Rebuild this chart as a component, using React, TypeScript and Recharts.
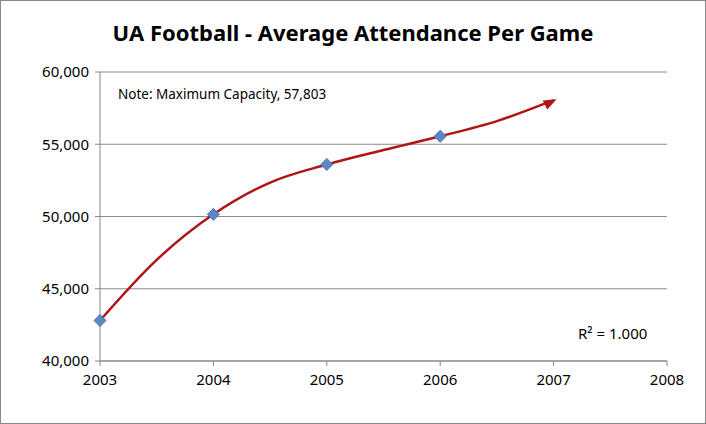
import { ComposedChart, Line, Scatter, XAxis, YAxis, CartesianGrid } from "recharts";

const years = [2003, 2004, 2005, 2006];
const attendance = [42800, 50150, 53600, 55550];
// trendline
const trendYears = [2003, 2003.5, 2004, 2004.5, 2005, 2005.5, 2006, 2006.5, 2007];
const trendValues = [42800, 47000, 50150, 52350, 53600, 54600, 55550, 56600, 58050];
const xTicks = [2003, 2004, 2005, 2006, 2007, 2008];
const yTicks = [40000, 45000, 50000, 55000, 60000];

const points = years.map((y, i) => ({ year: y, value: attendance[i] }));
const trend = trendYears.map((y, i) => ({ year: y, trend: trendValues[i] }));

const font = "'Noto Sans', 'Open Sans', sans-serif";

const ArrowDot = (props: any) => {
  const { cx, cy, index } = props;
  if (index !== trend.length - 1) return <g key={index} />;
  return (
    <polygon
      key={index}
      points="0,0 -13,-5 -13,5"
      fill="#B01515"
      transform={`translate(${cx + 3},${cy - 1}) rotate(-27)`}
    />
  );
};

const Diamond = (props: any) => {
  const { cx, cy } = props;
  return (
    <polygon
      points={`${cx},${cy - 6} ${cx + 6},${cy} ${cx},${cy + 6} ${cx - 6},${cy}`}
      fill="#5B87C5"
      stroke="#4A74B0"
    />
  );
};

export default function App() {
  return (
    <div style={{ position: "fixed", left: 0, top: 0, width: 706, height: 424, background: "#fff", fontFamily: font }}>
      <div style={{ position: "absolute", inset: 0, border: "1px solid #888", boxSizing: "border-box" }} />
      <div style={{ position: "absolute", top: 17, width: "100%", textAlign: "center", fontSize: 22, fontWeight: 700, color: "#000" }}>
        UA Football - Average Attendance Per Game
      </div>
      <div style={{ position: "absolute", left: 118, top: 85, fontSize: 13.5, color: "#000" }}>
        Note: Maximum Capacity, 57,803
      </div>
      <div style={{ position: "absolute", left: 578, top: 323, fontSize: 15, color: "#000" }}>
        R² = 1.000
      </div>
      <ComposedChart width={706} height={424} margin={{ top: 72, right: 39, bottom: 0, left: 10 }}>
        <CartesianGrid horizontal vertical={false} stroke="#8c8c8c" />
        <XAxis
          type="number"
          dataKey="year"
          domain={[2003, 2008]}
          ticks={xTicks}
          height={63}
          stroke="#868686"
          tick={{ fill: "#000", fontSize: 15, fontFamily: font }}
          tickSize={5}
          tickMargin={8}
          allowDuplicatedCategory={false}
        />
        <YAxis
          type="number"
          domain={[40000, 60000]}
          ticks={yTicks}
          width={90}
          stroke="#868686"
          tick={{ fill: "#000", fontSize: 15, fontFamily: font }}
          tickFormatter={(v: number) => v.toLocaleString("en-US")}
          tickSize={5}
          tickMargin={6}
        />
        <Line
          data={trend}
          dataKey="trend"
          type="monotone"
          stroke="#B01515"
          strokeWidth={2.5}
          dot={ArrowDot}
          activeDot={false}
          isAnimationActive={false}
        />
        <Scatter data={points} dataKey="value" shape={Diamond} isAnimationActive={false} />
      </ComposedChart>
    </div>
  );
}
